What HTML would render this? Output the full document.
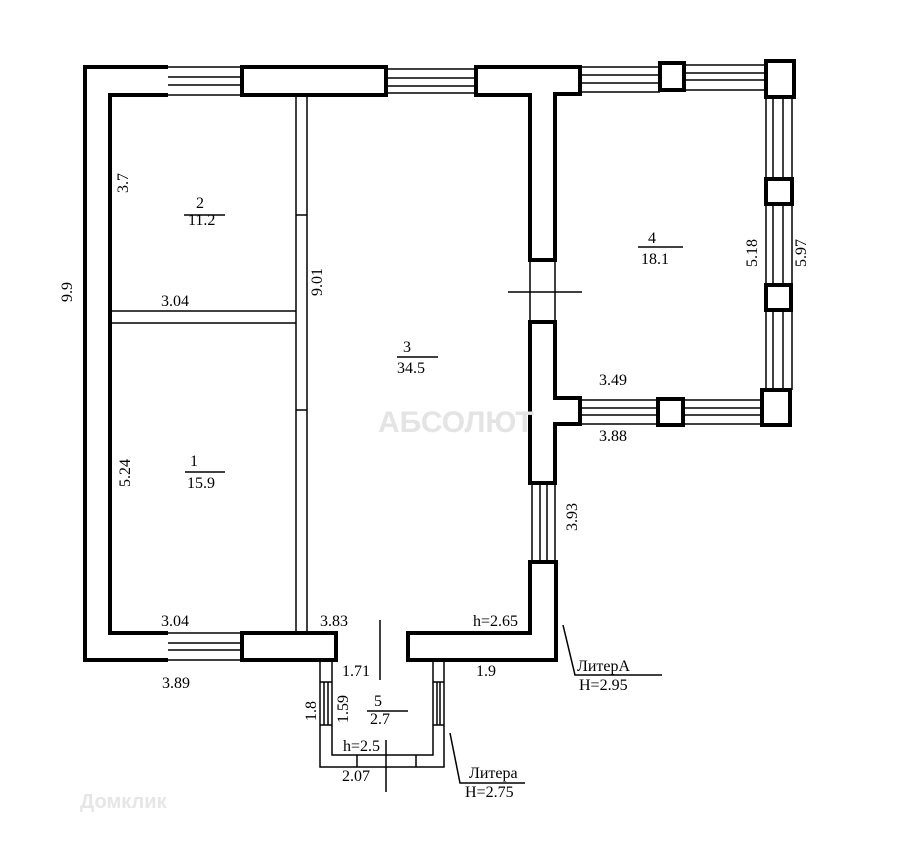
<!DOCTYPE html>
<html><head><meta charset="utf-8"><style>
html,body{margin:0;padding:0;background:#fff}
svg{display:block}
text{font-family:"Liberation Serif",serif;fill:#000}
</style></head><body>
<svg width="900" height="842" viewBox="0 0 900 842" xmlns="http://www.w3.org/2000/svg">
<g fill="none" stroke="#000">
<path d="M168,67 H85 V660 H168 M168,633 H110 V95 H168" stroke-width="4"/>
<rect x="242" y="67" width="144" height="28" stroke-width="4"/>
<rect x="242" y="633" width="94" height="27" stroke-width="4"/>
<path d="M408,633 H530 V562 H556 V660 H408 Z" stroke-width="4"/>
<path d="M476,67 H580 V94 H555 V260 H530 V95 H476 Z" stroke-width="4"/>
<path d="M530,322 H555 V398 H580 V424 H555 V483 H530 Z" stroke-width="4"/>
<g stroke-width="1.5">
<path d="M168,67 H242 M168,95 H242 M168,77 H242 M168,85 H242"/>
<path d="M386,69 H476 M386,93 H476 M386,78 H476 M386,86 H476"/>
<path d="M168,633 H242 M168,660 H242 M168,643 H242 M168,650 H242"/>
<path d="M580,67 H660 M580,92 H660 M580,75 H660 M580,83 H660"/>
<path d="M684,65 H766 M684,90 H766 M684,73 H766 M684,80 H766"/>
<path d="M580,400 H658 M580,424 H658 M580,408 H658 M580,415 H658"/>
<path d="M684,400 H762 M684,424 H762 M684,408 H762 M684,415 H762"/>
<path d="M766,98 V178 M792,98 V178 M773,98 V178 M783,98 V178"/>
<path d="M766,204 V284 M792,204 V284 M773,204 V284 M783,204 V284"/>
<path d="M766,310 V390 M792,310 V390 M773,310 V390 M783,310 V390"/>
<path d="M532,483 V562 M555,483 V562 M540,483 V562 M547,483 V562"/>
<path d="M530,260 V322 M555,260 V322 M508,292 H582"/>
<path d="M336,633 V660 M408,633 V660 M380,620 V680"/>
</g>
<g stroke-width="4">
<rect x="660" y="63" width="24" height="27"/>
<rect x="766" y="61" width="28" height="36"/>
<rect x="766" y="179" width="26" height="25"/>
<rect x="766" y="285" width="25" height="25"/>
<rect x="762" y="390" width="28" height="35"/>
<rect x="658" y="399" width="25" height="26"/>
</g>
<g stroke-width="1.5">
<path d="M296,95 V633 M307,95 V633"/>
<path d="M110,311 H296 M110,323 H296"/>
<path d="M296,215 H307 M296,410 H307"/>
<path d="M320,660 V767 H444 V660 M332,660 V755 H433 V660"/>
<path d="M357,755 V767 M416,755 V767"/>
<path d="M320,682 H332 M320,725 H332 M324,682 V725 M328,682 V725"/>
<path d="M433,682 H444 M433,725 H444 M437,682 V725 M440,682 V725"/>
<path d="M386,740 V792"/>
<path d="M563,625 L575,675 H662"/>
<path d="M450,733 L460,783 H525"/>
<path d="M184,215 H225 M185,472 H225 M397,357 H438 M638,247 H683 M367,711 H408"/>
</g>
</g>
<g font-size="16">
<text x="196" y="208">2</text><text x="188" y="225">11.2</text>
<text x="190" y="466">1</text><text x="187" y="488">15.9</text>
<text x="403" y="352">3</text><text x="397" y="373">34.5</text>
<text x="648" y="243">4</text><text x="641" y="264">18.1</text>
<text x="374" y="706">5</text><text x="370" y="724">2.7</text>
<text x="161" y="306">3.04</text>
<text x="161" y="626">3.04</text>
<text x="320" y="626">3.83</text>
<text x="473" y="626">h=2.65</text>
<text x="162" y="688">3.89</text>
<text x="342" y="676">1.71</text>
<text x="476" y="676">1.9</text>
<text x="599" y="385">3.49</text>
<text x="599" y="441">3.88</text>
<text x="343" y="751">h=2.5</text>
<text x="342" y="781">2.07</text>
<text x="577" y="671">ЛитерА</text>
<text x="579" y="690">H=2.95</text>
<text x="469" y="778">Литера</text>
<text x="465" y="797">H=2.75</text>
<text transform="translate(72,302) rotate(-90)">9.9</text>
<text transform="translate(128,193) rotate(-90)">3.7</text>
<text transform="translate(130,487) rotate(-90)">5.24</text>
<text transform="translate(322,296) rotate(-90)">9.01</text>
<text transform="translate(577,531) rotate(-90)">3.93</text>
<text transform="translate(757,267) rotate(-90)">5.18</text>
<text transform="translate(806,267) rotate(-90)">5.97</text>
<text transform="translate(316,721) rotate(-90)">1.8</text>
<text transform="translate(348,723) rotate(-90)">1.59</text>
</g>
<text x="378" y="432" font-size="30" style="font-family:'Liberation Sans',sans-serif;fill:#e4e4e4;font-weight:bold">АБСОЛЮТ</text>
<text x="80" y="808" font-size="20" style="font-family:'Liberation Sans',sans-serif;fill:#e6e6e6;font-weight:bold">Домклик</text>
</svg>
</body></html>
